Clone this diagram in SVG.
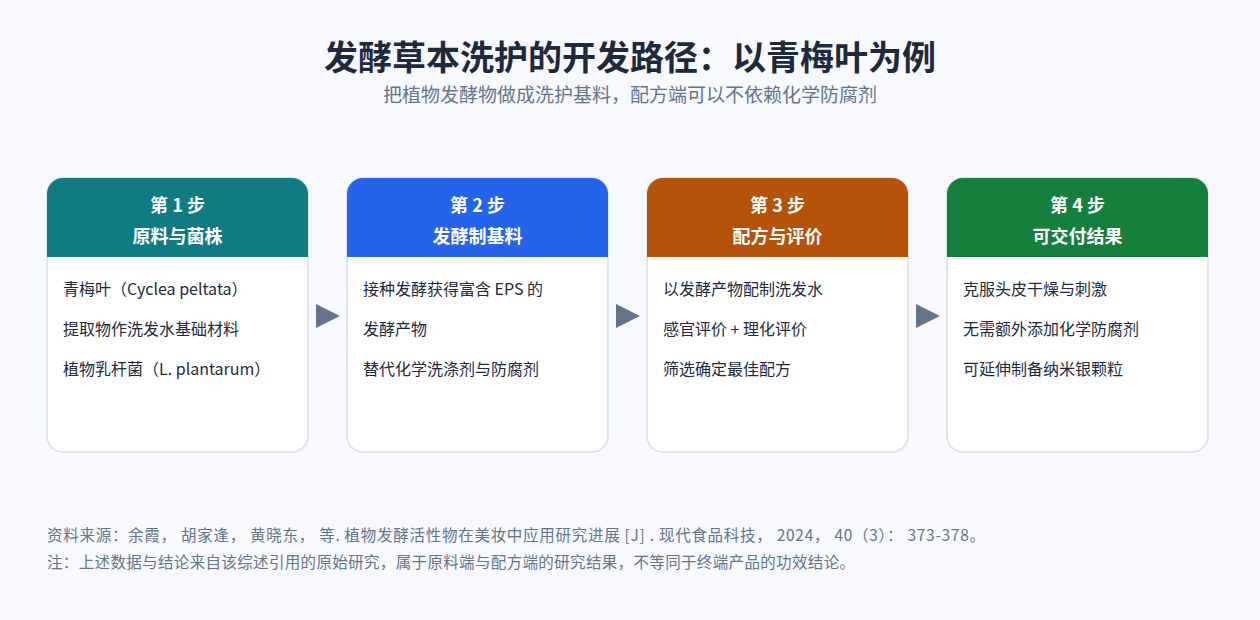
<svg xmlns="http://www.w3.org/2000/svg" width="1260" height="620" viewBox="0 0 1260 620">
<style>
text{font-family:"Noto Sans CJK SC","Noto Sans",sans-serif}
.title{font-size:34px;font-weight:700;fill:#1e293b}
.sub{font-size:19px;fill:#64748b}
.card{fill:#ffffff;stroke:#d5dde8;stroke-width:1.5}
.h{font-size:18px;font-weight:700;fill:#ffffff;text-anchor:middle}
.b{font-size:16px;fill:#1e293b}
.foot{font-size:15.5px;fill:#64748b}
.arr{fill:#64748b}
</style>
<defs>
<clipPath id="c1"><rect x="47" y="178" width="261" height="274" rx="16"/></clipPath>
<clipPath id="c2"><rect x="347" y="178" width="261" height="274" rx="16"/></clipPath>
<clipPath id="c3"><rect x="647" y="178" width="261" height="274" rx="16"/></clipPath>
<clipPath id="c4"><rect x="947" y="178" width="261" height="274" rx="16"/></clipPath>
</defs>
<rect width="1260" height="620" fill="#f7f9fc"/>
<text class="title" x="630" y="70" text-anchor="middle">发酵草本洗护的开发路径：以青梅叶为例</text>
<text class="sub" x="630" y="102" text-anchor="middle">把植物发酵物做成洗护基料，配方端可以不依赖化学防腐剂</text>

<g id="step1">
<rect class="card" x="47" y="178" width="261" height="274" rx="16"/>
<rect x="47" y="178" width="261" height="79" fill="#0f7b83" clip-path="url(#c1)"/>
<text class="h" x="177.5" y="212">第 1 步</text>
<text class="h" x="177.5" y="243">原料与菌株</text>
<text class="b" x="63" y="295">青梅叶（Cyclea peltata）</text>
<text class="b" x="63" y="335">提取物作洗发水基础材料</text>
<text class="b" x="63" y="375">植物乳杆菌（L. plantarum）</text>
</g>
<g id="step2">
<rect class="card" x="347" y="178" width="261" height="274" rx="16"/>
<rect x="347" y="178" width="261" height="79" fill="#2563eb" clip-path="url(#c2)"/>
<text class="h" x="477.5" y="212">第 2 步</text>
<text class="h" x="477.5" y="243">发酵制基料</text>
<text class="b" x="363" y="295">接种发酵获得富含 EPS 的</text>
<text class="b" x="363" y="335">发酵产物</text>
<text class="b" x="363" y="375">替代化学洗涤剂与防腐剂</text>
</g>
<g id="step3">
<rect class="card" x="647" y="178" width="261" height="274" rx="16"/>
<rect x="647" y="178" width="261" height="79" fill="#b45309" clip-path="url(#c3)"/>
<text class="h" x="777.5" y="212">第 3 步</text>
<text class="h" x="777.5" y="243">配方与评价</text>
<text class="b" x="663" y="295">以发酵产物配制洗发水</text>
<text class="b" x="663" y="335">感官评价 + 理化评价</text>
<text class="b" x="663" y="375">筛选确定最佳配方</text>
</g>
<g id="step4">
<rect class="card" x="947" y="178" width="261" height="274" rx="16"/>
<rect x="947" y="178" width="261" height="79" fill="#15803d" clip-path="url(#c4)"/>
<text class="h" x="1077.5" y="212">第 4 步</text>
<text class="h" x="1077.5" y="243">可交付结果</text>
<text class="b" x="963" y="295">克服头皮干燥与刺激</text>
<text class="b" x="963" y="335">无需额外添加化学防腐剂</text>
<text class="b" x="963" y="375">可延伸制备纳米银颗粒</text>
</g>
<g id="connectors">
<polygon class="arr" points="316,304 340,316 316,328"/>
<polygon class="arr" points="616,304 640,316 616,328"/>
<polygon class="arr" points="916,304 940,316 916,328"/>
</g>
<text class="foot" x="47" y="541" textLength="938" lengthAdjust="spacing">资料来源：余霞， 胡家逢， 黄晓东， 等. 植物发酵活性物在美妆中应用研究进展 [J] . 现代食品科技， 2024， 40（3）： 373-378。</text>
<text class="foot" x="47" y="568" textLength="808" lengthAdjust="spacing">注：上述数据与结论来自该综述引用的原始研究，属于原料端与配方端的研究结果，不等同于终端产品的功效结论。</text>
</svg>
